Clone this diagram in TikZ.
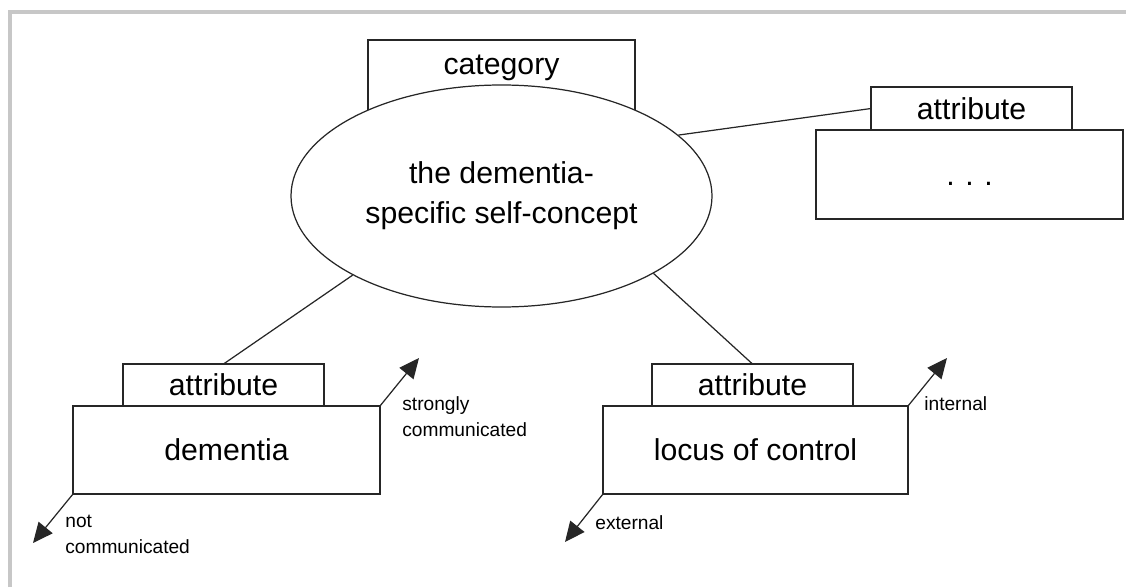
\documentclass[tikz,border=0pt]{standalone}
\usepackage{fontspec}
\setmainfont{Liberation Sans}
\usetikzlibrary{shapes.geometric, arrows.meta, positioning}

\begin{document}
\begin{tikzpicture}[>={Triangle[length=0.4cm, width=0.36cm]},
    linha/.style={line width=0.7pt, draw=black!85},
    caixa/.style={linha, rectangle, fill=white, inner sep=0pt, outer sep=0pt,
        font=\fontsize{17.2}{22.8}\selectfont},
    rotulo/.style={anchor=north west, inner sep=0pt, align=left,
        font=\fontsize{10.9}{14.8}\selectfont}]

    \def\Lg{6.14} % width of the large boxes
    \def\La{4.02} % width of the attribute boxes

    \useasboundingbox (0,0) rectangle (22.52,11.74);

    % frame
    \draw[line width=2.4pt, black!22] (0.2,0) -- (0.2,11.5) -- (22.52,11.5);

    % 1. Category box and the central ellipse
    \node[caixa, minimum width=5.34cm, minimum height=2cm, anchor=north] (cat) at (10.03,10.94) {};
    \node[ellipse, linha, fill=white, minimum width=8.42cm, minimum height=4.44cm, inner sep=0pt,
        align=center, font=\fontsize{17.2}{22.8}\selectfont] (conceito) at (10.03,7.82)
        {the dementia-\\specific self-concept};
    \node[anchor=base, font=\fontsize{17.2}{22.8}\selectfont] (cattexto) at (10.03,10.24) {category};

    % 2. Attribute boxes
    \node[caixa, minimum width=\Lg cm, minimum height=1.76cm] (dem) at (4.53,2.74) {dementia};
    \node[caixa, minimum width=\La cm, minimum height=0.84cm, above=0pt of dem, xshift=-0.06cm] (attdem) {attribute};

    \node[caixa, minimum width=6.1cm, minimum height=1.76cm] (loc) at (15.11,2.74) {locus of control};
    \node[caixa, minimum width=\La cm, minimum height=0.84cm, above=0pt of loc, xshift=-0.06cm] (attloc) {attribute};

    \node[caixa, minimum width=\Lg cm, minimum height=1.78cm] (mais) at (19.39,8.25)
        {.\hspace{0.35em}.\hspace{0.35em}.\vphantom{d}};
    \node[caixa, minimum width=\La cm, minimum height=0.86cm, above=0pt of mais, xshift=0.04cm] (attmais) {attribute};

    % 3. Connectors from the ellipse
    \draw[linha] (conceito.-152) -- (attdem.north);
    \draw[linha] (conceito.-27) -- (attloc.north);
    \draw[linha] (conceito.19) -- (attmais.west);

    % 4. Dimension arrows
    \coordinate (demalto) at (8.38,4.58);
    \coordinate (dembaixo) at (0.66,0.88);
    \coordinate (localto) at (18.94,4.58);
    \coordinate (locbaixo) at (11.30,0.90);

    \draw[linha, ->] (dem.north east) -- (demalto);
    \draw[linha, ->] (dem.south west) -- (dembaixo);
    \draw[linha, ->] (loc.north east) -- (localto);
    \draw[linha, ->] (loc.south west) -- (locbaixo);

    \node[rotulo] (forte) at (8.04,3.82) {strongly\\communicated};
    \node[rotulo] (nao) at (1.30,1.44) {not\\communicated};
    \node[rotulo] (interno) at (18.48,3.82) {internal};
    \node[rotulo] (externo) at (11.90,1.44) {external};

\end{tikzpicture}
\end{document}
